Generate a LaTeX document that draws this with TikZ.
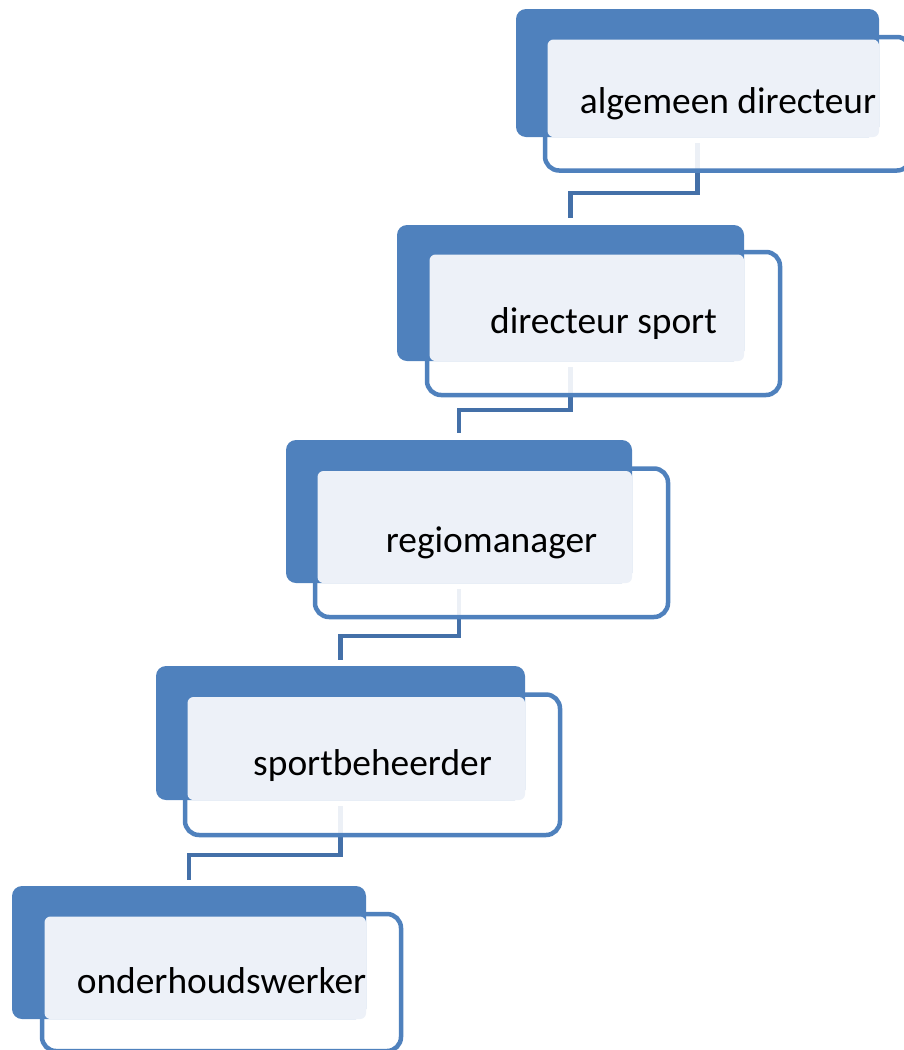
\documentclass[tikz,border=0pt]{standalone}
\usepackage{fontspec}
\setmainfont{Carlito}
\definecolor{darkblue}{HTML}{4F81BD}
\definecolor{lightbox}{HTML}{EDF1F8}
\definecolor{connblue}{HTML}{4470A8}
\pgfdeclarelayer{bg}
\pgfsetlayers{bg,main}
\tikzset{
  darkbox/.style={rectangle, rounded corners=10pt, fill=darkblue, draw=none, anchor=north west, inner sep=0pt, outer sep=0pt},
  outlinebox/.style={rectangle, rounded corners=14pt, draw=darkblue, line width=4.5pt, fill=white, fill opacity=0.9, anchor=north west, inner sep=0pt, outer sep=0pt},
  lightfill/.style={fill=lightbox, rounded corners=6pt},
  boxtext/.style={anchor=base, font=\fontsize{37.4}{41}\selectfont, text=black, inner sep=0pt},
  conn/.style={draw=connblue, line width=4.5pt},
}
\begin{document}
\begin{tikzpicture}[x=1pt,y=-1pt]
\useasboundingbox (0,0) rectangle (904,1050);

% level 1
\node[outlinebox, minimum width=366pt, minimum height=133.5pt] (o1) at (545,37) {};
\node[darkbox, minimum width=363pt, minimum height=128pt] (d1) at (516,9) {};
\fill[lightfill] ([shift={(2.5,2.5)}]o1.north west) rectangle (d1.south east);
\node[boxtext] (t1) at ([yshift=-9.5pt]o1.center) {algemeen directeur};

% level 2
\node[outlinebox, minimum width=353pt, minimum height=143pt] (o2) at (427,252) {};
\node[darkbox, minimum width=347pt, minimum height=136pt] (d2) at (397,225) {};
\fill[lightfill] ([shift={(2.5,2.5)}]o2.north west) rectangle (d2.south east);
\node[boxtext] (t2) at ([yshift=-9.5pt]o2.center) {directeur sport};

% level 3
\node[outlinebox, minimum width=353pt, minimum height=148.5pt] (o3) at (315,468.5) {};
\node[darkbox, minimum width=346pt, minimum height=143pt] (d3) at (286,440) {};
\fill[lightfill] ([shift={(2.5,2.5)}]o3.north west) rectangle (d3.south east);
\node[boxtext] (t3) at ([yshift=-10pt]o3.center) {regiomanager};

% level 4
\node[outlinebox, minimum width=375pt, minimum height=140.5pt] (o4) at (185,694.5) {};
\node[darkbox, minimum width=369pt, minimum height=134pt] (d4) at (156,666) {};
\fill[lightfill] ([shift={(2.5,2.5)}]o4.north west) rectangle (d4.south east);
\node[boxtext] (t4) at ([yshift=-11pt]o4.center) {sportbeheerder};

% level 5
\node[outlinebox, minimum width=359pt, minimum height=137pt] (o5) at (42,914) {};
\node[darkbox, minimum width=354pt, minimum height=133pt] (d5) at (12,886) {};
\fill[lightfill] ([shift={(2.5,2.5)}]o5.north west) rectangle (d5.south east);
\node[boxtext] (t5) at ([yshift=-11pt]o5.center) {onderhoudswerker};

% connectors
\begin{pgfonlayer}{bg}
\draw[conn] ([yshift=-6pt]d1.south) -- ++(0,50) -| ([yshift=7pt]d2.north);
\draw[conn] ([yshift=-6pt]d2.south) -- ++(0,43) -| ([yshift=7pt]d3.north);
\draw[conn] ([yshift=-6pt]d3.south) -- ++(0,47) -| ([yshift=6pt]d4.north);
\draw[conn] ([yshift=-6pt]d4.south) -- ++(0,49) -| ([yshift=6pt]d5.north);
\end{pgfonlayer}
\end{tikzpicture}
\end{document}
